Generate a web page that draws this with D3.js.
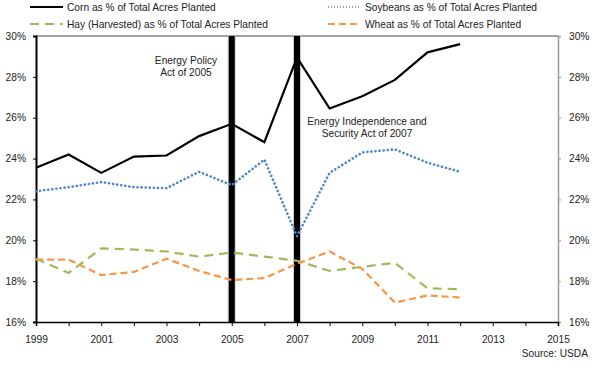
<!DOCTYPE html>
<html>
<head>
<meta charset="utf-8">
<script src="https://cdn.jsdelivr.net/npm/d3@7"></script>
<style>
  body { margin: 0; background: #fff; }
  svg { font-family: "Liberation Sans", Arial, sans-serif; }
</style>
</head>
<body>
<div class="dataContainer"></div>
<script>
// data
var years = [1999, 2000, 2001, 2002, 2003, 2004, 2005, 2006, 2007, 2008, 2009, 2010, 2011, 2012];
var corn = [23.55, 24.2, 23.3, 24.1, 24.15, 25.1, 25.7, 24.8, 28.95, 26.45, 27.05, 27.85, 29.2, 29.6];
var soybeans = [22.4, 22.6, 22.85, 22.6, 22.55, 23.35, 22.7, 23.95, 20.2, 23.3, 24.3, 24.45, 23.8, 23.35];
var hay = [19.1, 18.4, 19.6, 19.55, 19.45, 19.2, 19.4, 19.2, 19.0, 18.5, 18.7, 18.9, 17.65, 17.6];
var wheat = [19.05, 19.05, 18.3, 18.45, 19.1, 18.5, 18.05, 18.15, 18.85, 19.45, 18.6, 16.95, 17.3, 17.2];
var seriesNames = ["Corn as % of Total Acres Planted", "Soybeans as % of Total Acres Planted",
  "Hay (Harvested) as % of Total Acres Planted", "Wheat as % of Total Acres Planted"];
var yTicks = [16, 18, 20, 22, 24, 26, 28, 30];
var xTickLabels = [1999, 2001, 2003, 2005, 2007, 2009, 2011, 2013, 2015];
var policyYears = [2005, 2007];

var width = 600, height = 372;
// note: "top" clashes with window.top, so plot edges get their own names
var plotLeft = 36, plotRight = 558, plotTop = 36, plotBottom = 322;
var fontSize = 10.2;

var svg = d3.select(".dataContainer").append("svg")
    .attr("width", width)
    .attr("height", height);

var x = d3.scaleLinear().domain([1999, 2015]).range([plotLeft, plotRight]);
var y = d3.scaleLinear().domain([16, 30]).range([plotBottom, plotTop]);

// top border
svg.append("line")
    .attr("x1", plotLeft).attr("x2", plotRight)
    .attr("y1", plotTop).attr("y2", plotTop)
    .attr("stroke", "#444").attr("stroke-width", 1);

// policy bars
svg.selectAll("rect.policy")
    .data(policyYears)
    .enter()
    .append("rect")
    .attr("class", "policy")
    .attr("x", function (d) { return x(d) - 4; })
    .attr("y", plotTop)
    .attr("width", 8)
    .attr("height", plotBottom - plotTop)
    .attr("fill", "#ccc");
svg.selectAll("rect.policyCore")
    .data(policyYears)
    .enter()
    .append("rect")
    .attr("class", "policyCore")
    .attr("x", function (d) { return x(d) - 3; })
    .attr("y", plotTop)
    .attr("width", 6)
    .attr("height", plotBottom - plotTop)
    .attr("fill", "#000");

// axes
var leftAxis = svg.append("g")
    .attr("transform", "translate(" + plotLeft + ",0)")
    .call(d3.axisLeft(y).tickValues(yTicks).tickSize(3).tickPadding(7)
        .tickFormat(function (d) { return d + "%"; }));
leftAxis.select(".domain").attr("stroke", "#000").attr("stroke-width", 2);

var rightAxis = svg.append("g")
    .attr("transform", "translate(" + plotRight + ",0)")
    .call(d3.axisRight(y).tickValues(yTicks).tickSize(3).tickPadding(8)
        .tickFormat(function (d) { return d + "%"; }));
rightAxis.select(".domain").attr("stroke", "#999").attr("stroke-width", 1.5);
rightAxis.selectAll(".tick line").attr("stroke", "#999");

var bottomAxis = svg.append("g")
    .attr("transform", "translate(0," + plotBottom + ")")
    .call(d3.axisBottom(x).tickValues(d3.range(1999, 2016)).tickSize(4).tickPadding(10)
        .tickFormat(function (d) { return xTickLabels.indexOf(d) >= 0 ? d : ""; }));
bottomAxis.select(".domain").attr("stroke", "#000").attr("stroke-width", 1.5);

svg.selectAll(".tick text")
    .attr("font-size", fontSize)
    .attr("fill", "#222")
    .attr("font-family", "Liberation Sans, Arial, sans-serif");

// lines
var styles = [
  { data: corn, color: "#000", width: 2.2, dash: null, cap: "butt" },
  { data: soybeans, color: "#4a86c8", width: 2.6, dash: "0.1 4", cap: "round" },
  { data: hay, color: "#9bbb59", width: 2.2, dash: "9 6", cap: "butt" },
  { data: wheat, color: "#f79646", width: 2.2, dash: "7 4", cap: "butt" }
];

var line = d3.line()
    .x(function (d, i) { return x(years[i]); })
    .y(function (d) { return y(d); });

styles.forEach(function (s) {
    svg.append("path")
        .datum(s.data)
        .attr("d", line)
        .attr("fill", "none")
        .attr("stroke", s.color)
        .attr("stroke-width", s.width)
        .attr("stroke-dasharray", s.dash)
        .attr("stroke-linecap", s.cap)
        .attr("stroke-linejoin", "miter");
});

// legend
var legendPos = [[30, 7], [328, 7], [30, 24], [328, 24]];
[0, 1, 2, 3].forEach(function (k) {
    var p = legendPos[k];
    var s = styles[k];
    svg.append("line")
        .attr("x1", p[0]).attr("x2", p[0] + 33)
        .attr("y1", p[1]).attr("y2", p[1])
        .attr("stroke", s.color)
        .attr("stroke-width", k == 1 ? 1.5 : 2)
        .attr("stroke-dasharray", k == 1 ? "1 2" : s.dash)
        .attr("stroke-linecap", "butt");
    svg.append("text")
        .attr("x", p[0] + 37)
        .attr("y", p[1] + 4)
        .attr("font-size", fontSize)
        .attr("fill", "#222")
        .text(seriesNames[k]);
});

// annotations
var notes = [
  { x: 186, y: 64, lines: ["Energy Policy", "Act of 2005"] },
  { x: 367, y: 125, lines: ["Energy Independence and", "Security Act of 2007"] }
];
notes.forEach(function (n) {
    n.lines.forEach(function (t, i) {
        svg.append("text")
            .attr("x", n.x)
            .attr("y", n.y + i * 12)
            .attr("text-anchor", "middle")
            .attr("font-size", fontSize)
            .attr("fill", "#222")
            .text(t);
    });
});

svg.append("text")
    .attr("x", 588)
    .attr("y", 357)
    .attr("text-anchor", "end")
    .attr("font-size", fontSize)
    .attr("fill", "#222")
    .text("Source: USDA");
</script>
</body>
</html>
